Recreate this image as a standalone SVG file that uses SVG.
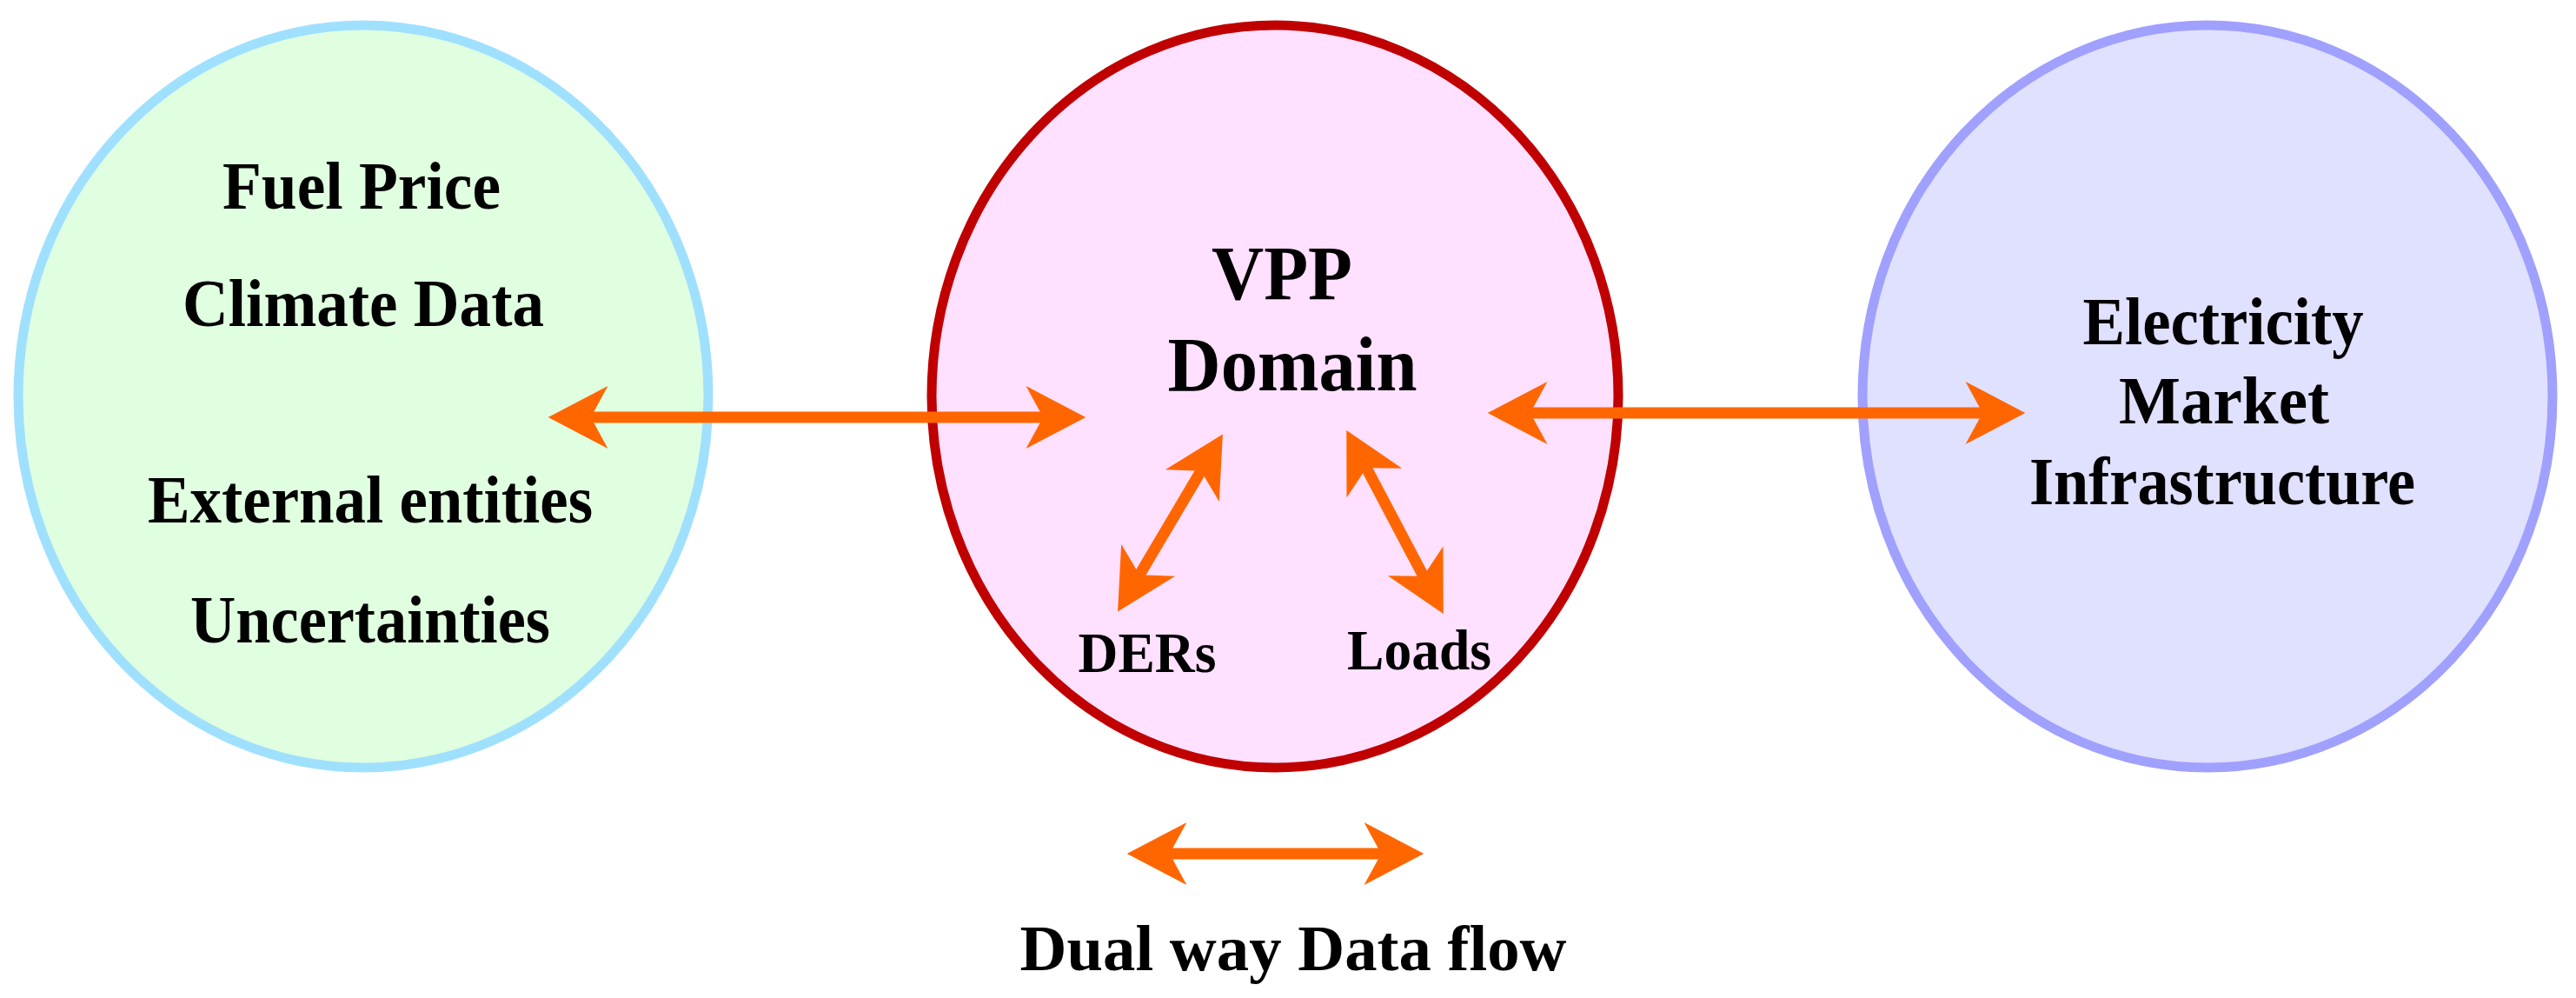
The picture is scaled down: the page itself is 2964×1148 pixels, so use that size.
<svg xmlns="http://www.w3.org/2000/svg" width="2964" height="1148" viewBox="0 0 2964 1148">
<style>
text{font-family:"Liberation Serif","Times New Roman",serif;font-weight:bold;fill:#000;text-anchor:middle}
.c{stroke-width:11}
.a{stroke:#FF6600;stroke-width:13;fill:none;marker-start:url(#h);marker-end:url(#h)}
</style>
<defs>
<marker id="h" markerUnits="userSpaceOnUse" markerWidth="120" markerHeight="120" viewBox="-80 -40 110 80" refX="-25" refY="0" orient="auto-start-reverse" overflow="visible">
<path d="M0,0 L-63,-33 L-45,0 L-63,33 Z" fill="#FF6600"/>
</marker>
</defs>
<rect width="2964" height="1148" fill="#fff"/>
<g id="external">
<ellipse class="c" cx="418" cy="456" rx="397" ry="427" fill="#E0FFE0" stroke="#A0E0FF"/>
<text x="416" y="240" font-size="78" textLength="320" lengthAdjust="spacingAndGlyphs">Fuel Price</text>
<text x="418" y="375" font-size="78" textLength="416" lengthAdjust="spacingAndGlyphs">Climate Data</text>
<text x="426" y="601" font-size="78" textLength="512" lengthAdjust="spacingAndGlyphs">External entities</text>
<text x="426" y="739" font-size="78" textLength="414" lengthAdjust="spacingAndGlyphs">Uncertainties</text>
</g>
<g id="vpp">
<ellipse class="c" cx="1467" cy="456" rx="395" ry="427" fill="#FFE0FF" stroke="#C00000"/>
<text x="1475" y="344" font-size="88" textLength="162" lengthAdjust="spacingAndGlyphs">VPP</text>
<text x="1487" y="449" font-size="88" textLength="287" lengthAdjust="spacingAndGlyphs">Domain</text>
<text x="1320" y="773" font-size="66" textLength="159" lengthAdjust="spacingAndGlyphs">DERs</text>
<text x="1633" y="770" font-size="66" textLength="166" lengthAdjust="spacingAndGlyphs">Loads</text>
</g>
<g id="market">
<ellipse class="c" cx="2540" cy="456" rx="397" ry="427" fill="#E0E0FF" stroke="#A0A0FF"/>
<text x="2558" y="396" font-size="78" textLength="323" lengthAdjust="spacingAndGlyphs">Electricity</text>
<text x="2559" y="487" font-size="78" textLength="242" lengthAdjust="spacingAndGlyphs">Market</text>
<text x="2557" y="580" font-size="78" textLength="444" lengthAdjust="spacingAndGlyphs">Infrastructure</text>
</g>
<g id="legend">
<text x="1488" y="1116" font-size="75" textLength="629" lengthAdjust="spacingAndGlyphs">Dual way Data flow</text>
</g>
<g id="connectors">
<line class="a" x1="658" y1="480" x2="1222" y2="480"/>
<line class="a" x1="1739" y1="475" x2="2303" y2="475"/>
<line class="a" x1="1393" y1="523" x2="1300" y2="680"/>
<line class="a" x1="1562" y1="519" x2="1648" y2="682"/>
<line class="a" x1="1324" y1="982" x2="1611" y2="982"/>
</g>
</svg>
